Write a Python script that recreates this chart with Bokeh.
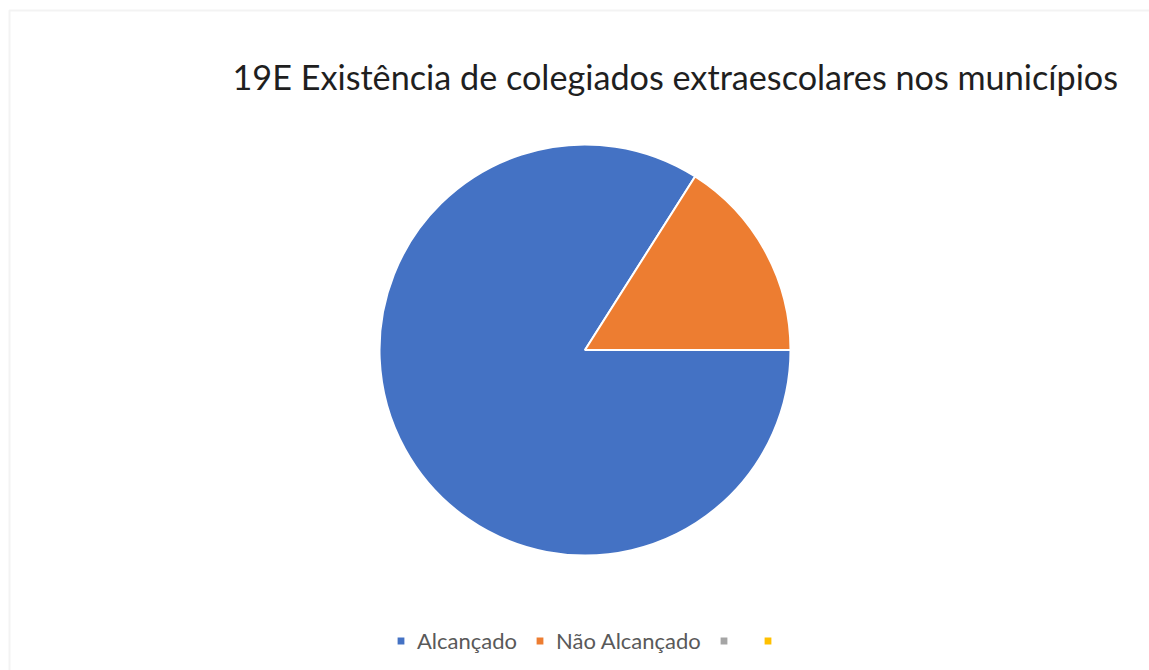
import numpy as np
from bokeh.plotting import figure
from bokeh.models import ColumnDataSource, Range1d, Legend, LegendItem, Label, BoxAnnotation
from bokeh.embed import file_html
from bokeh.resources import INLINE

title_text = "19E Existência de colegiados extraescolares nos municípios"
categories = ["Alcançado", "Não Alcançado", "", ""]
values = [84, 16, 0, 0]
colors = ["#4472C4", "#ED7D31", "#A5A5A5", "#FFC000"]

W, H = 1149, 670
CX, CY, R = 584.5, 670 - 349.5, 205.5

p = figure(width=W, height=H, x_range=Range1d(0, W), y_range=Range1d(0, H),
           output_backend="svg", toolbar_location=None, min_border=0,
           x_axis_location=None, y_axis_location=None)
p.grid.visible = False
p.outline_line_color = None
p.background_fill_color = "white"
p.border_fill_color = "white"

vals = np.array(values, dtype=float)
frac = vals / vals.sum()
cum = np.cumsum(frac)
starts = -2 * np.pi * (cum - frac)
ends = -2 * np.pi * cum
radii = np.where(vals > 0, R, 0.0)

items = []
for i, (cat, col) in enumerate(zip(categories, colors)):
    src = ColumnDataSource(dict(start=[starts[i]], end=[ends[i]], r=[radii[i]]))
    r = p.wedge(x=CX, y=CY, radius="r", start_angle="start", end_angle="end",
                direction="clock", fill_color=col, line_color="white",
                line_width=2, source=src)
    items.append(LegendItem(label=cat if cat else "\u00a0", renderers=[r], index=0))

legend = Legend(items=items, orientation="horizontal", location=(395, 16),
                glyph_width=11, glyph_height=11, label_standoff=11, spacing=17,
                label_width=0, padding=0, margin=0, border_line_color=None,
                background_fill_alpha=0, label_text_font="Lato",
                label_text_font_size="22px", label_text_color="#595959")
p.add_layout(legend, "center")

p.add_layout(Label(x=232, y=H - 76, text=title_text, text_font="Lato",
                   text_font_size="34.2px", text_color="#1f1f1f",
                   text_baseline="alphabetic"))

p.add_layout(BoxAnnotation(left=9, right=W + 10, bottom=-10, top=H - 10,
                           fill_color=None, line_color="#d6d6d6", line_width=2))

open("out.html", "w").write(file_html(p, INLINE))
